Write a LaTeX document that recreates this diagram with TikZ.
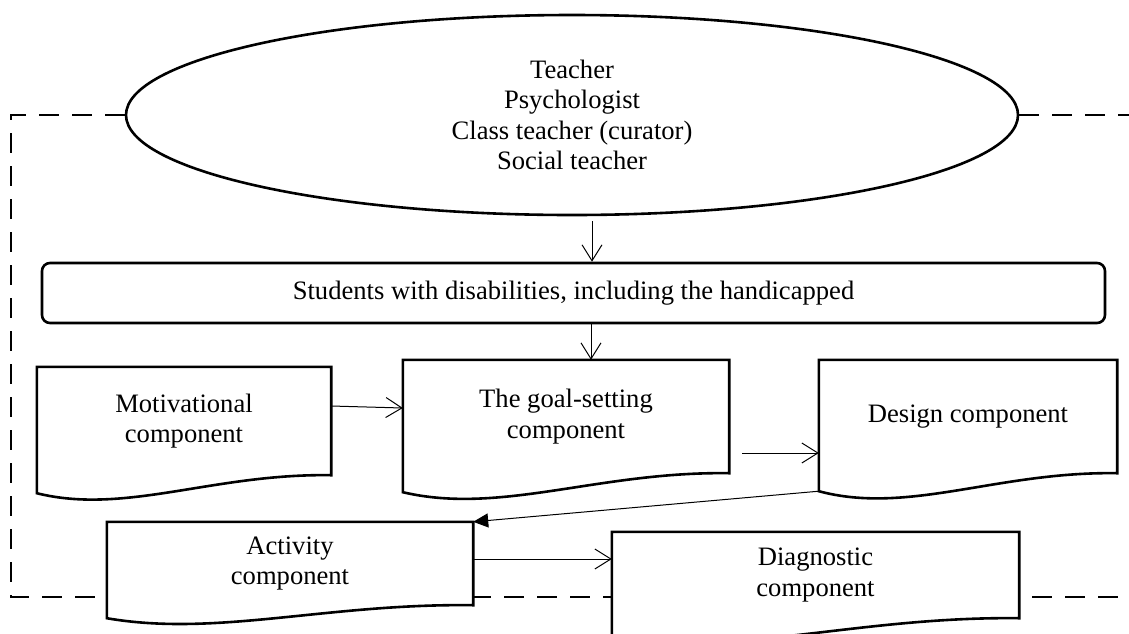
\documentclass[tikz,border=0pt]{standalone}
\usepackage{fontspec}
\setmainfont{Liberation Serif}
\usetikzlibrary{arrows.meta,calc,shapes.geometric}
\pgfdeclarelayer{bg}
\pgfdeclarelayer{mid}
\pgfsetlayers{bg,mid,main}
\tikzset{
  boxline/.style={line width=2.6pt, draw=black, fill=white},
  txt/.style={inner sep=0pt, align=center, font=\fontsize{26.6}{30.3}\selectfont},
  docnode/.style={txt, rectangle, draw=none},
  arr/.style={line width=1pt, -{Straight Barb[length=16pt,width=20pt,line width=1pt]}},
  farr/.style={line width=1pt, -{Triangle[length=15pt,width=14pt]}},
  frame/.style={line width=2.4pt, dash pattern=on 20pt off 13pt}
}
\newcommand{\docoutline}[3]{%
  \begin{pgfonlayer}{mid}
  \draw[boxline] (#1.north west) -- (#1.north east) -- (#1.south east)
    .. controls ($(#1.south east)!0.4!(#1.south west)+(0,-2)$) and ($(#1.south east)!0.7!(#1.south west)+(0,#3)$) ..
    ($(#1.south west)+(0,#2)$) -- cycle;
  \end{pgfonlayer}}
\begin{document}
\begin{tikzpicture}[x=1pt,y=-1pt]
\useasboundingbox (0,0) rectangle (1129,633);
\begin{pgfonlayer}{bg}
\fill[white] (0,0) rectangle (1129,633);
\end{pgfonlayer}
% ellipse
\node[ellipse, line width=2.6pt, draw, fill=white, minimum width=892pt, minimum height=200pt, txt] (ell) at (572,115)
  {Teacher\\Psychologist\\Class teacher (curator)\\Social teacher};
% students
\node[rectangle, rounded corners=8pt, line width=2.6pt, draw, fill=white, minimum width=1063pt, minimum height=60pt, txt] (stud) at (573.5,293)
  {Students with disabilities, including the handicapped};
% document boxes
\node[docnode, minimum width=294pt, minimum height=108pt] (mot) at (184,421) {Motivational\\component};
\node[docnode, minimum width=326pt, minimum height=113pt] (goal) at (566,416.5) {The goal-setting\\component};
\node[docnode, minimum width=298pt, minimum height=113pt] (des) at (968,416.5) {Design component};
\node[docnode, minimum width=366pt, minimum height=83pt] (act) at (290,563.5) {Activity\\component};
\node[docnode, minimum width=407pt, minimum height=86pt] (diag) at (815.5,575) {Diagnostic\\component};
\docoutline{mot}{18}{40}
\docoutline{goal}{19}{42}
\docoutline{des}{18}{42}
\docoutline{act}{13}{32}
\docoutline{diag}{18}{40}
% dashed frame
\coordinate (ftl) at (11,115);
\coordinate (fbl) at (11,597);
\coordinate (fbr) at (1129,597);
\coordinate (ftr) at (1129,115);
\begin{pgfonlayer}{bg}
\draw[frame] (ell.west) -- (ftl) -- (fbl) -- (fbr);
\draw[frame] (ell.east) -- (ftr);
\end{pgfonlayer}
% connectors
\coordinate (a1) at (592,221);
\draw[arr] (a1) -- (a1 |- stud.north);
\coordinate (a2) at (591,0);
\draw[arr] (stud.south -| a2) -- (goal.north -| a2);
\draw[arr] ($(mot.east)+(0,-15)$) -- ($(goal.west)+(0,-8.5)$);
\coordinate (a3) at (742,453);
\draw[arr] (a3) -- (a3 -| des.west);
\draw[farr] ($(des.south west)+(0,18)$) -- (act.north east);
\coordinate (a4) at (0,559);
\draw[arr] (act.east |- a4) -- (diag.west |- a4);
\end{tikzpicture}
\end{document}
